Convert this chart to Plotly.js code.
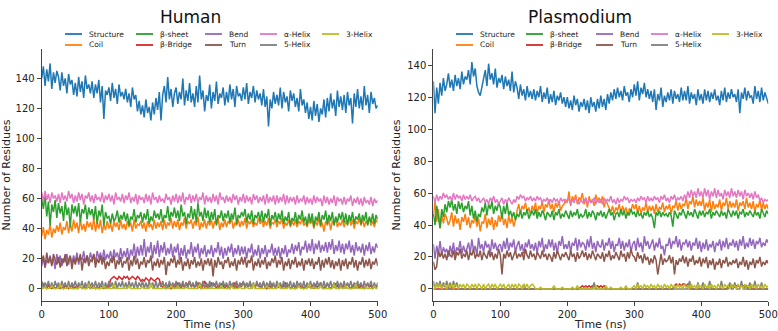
<!DOCTYPE html>
<html>
<head>
<meta charset="utf-8">
<script src="https://cdn.plot.ly/plotly-3.0.1.min.js"></script>
<style>
  html, body { margin: 0; padding: 0; background: #fff; }
  #graph { width: 778px; height: 331px; }
</style>
</head>
<body>
<div id="graph"></div>
<script>
// sampled every 2.5 ns, 0..500
var time = [];
for (var t = 0; t <= 500; t += 2.5) time.push(t);

var names = ['Structure', 'Coil', 'β-sheet', 'β-Bridge', 'Bend', 'Turn', 'α-Helix', '5-Helix', '3-Helix'];
var colors = ['#1f77b4', '#ff7f0e', '#2ca02c', '#d62728', '#9467bd', '#8c564b', '#e377c2', '#7f7f7f', '#bcbd22'];

// ---- Human ----
var hStructure = [
  140,148,135,146,138,150,133,144,137,145,
  141,132,144,135,140,130,143,136,139,129,
  137,128,141,131,138,127,142,133,136,130,
  138,127,136,130,139,124,135,113,132,129,
  134,125,137,127,133,123,136,128,131,126,
  133,124,130,121,134,126,129,118,125,116,
  122,114,126,117,121,112,124,116,127,119,
  131,112,129,135,124,141,126,133,121,130,
  134,123,131,126,140,122,132,125,137,124,
  130,121,135,124,142,126,132,118,129,125,
  136,120,131,125,138,123,130,127,134,122,
  131,124,136,126,133,121,135,128,130,125,
  134,126,137,123,131,127,135,124,132,126,
  130,122,133,121,128,108,126,120,131,123,
  129,122,134,120,131,124,128,118,132,125,
  130,121,127,118,133,122,126,117,124,113,
  121,112,125,115,123,111,120,116,126,114,
  127,118,130,120,126,115,132,121,128,119,
  129,117,131,122,127,110,130,121,133,120,
  128,119,135,122,129,117,131,123,127,120, 122];
var hCoil = [
  35,41,33,39,36,43,34,40,37,42,
  38,44,36,41,39,45,37,43,38,46,
  40,44,37,46,39,43,38,45,41,44,
  39,47,38,44,40,46,37,43,39,45,
  40,43,38,45,41,44,39,46,40,43,
  39,45,41,44,38,46,40,43,42,45,
  40,44,38,45,41,43,39,46,40,44,
  41,45,39,46,40,44,42,47,40,45,
  41,46,39,44,42,47,40,45,43,46,
  40,45,42,48,39,44,41,46,40,45,
  42,46,40,45,43,47,39,44,41,46,
  41,45,43,47,40,44,42,46,41,45,
  42,47,40,45,43,46,41,44,42,47,
  43,46,41,45,42,47,40,44,43,46,
  41,45,43,47,40,44,42,46,41,45,
  42,46,41,45,43,47,42,44,41,46,
  43,46,40,45,42,47,41,44,38,45,
  42,46,39,45,43,47,41,44,42,46,
  41,45,43,47,42,46,40,45,43,47,
  42,46,41,45,43,47,42,45,41,46, 44];
var hSheet = [
  60,53,62,48,58,42,56,51,59,47,
  57,50,55,45,58,49,54,41,56,50,
  55,48,57,44,53,50,56,46,54,49,
  53,46,55,43,52,48,56,42,51,47,
  48,43,50,45,47,52,44,49,46,51,
  45,50,42,48,46,53,44,49,47,51,
  44,50,46,53,43,48,45,52,47,50,
  46,53,44,49,47,55,45,51,48,54,
  47,52,45,56,48,51,43,50,47,55,
  46,53,44,57,48,51,45,54,47,52,
  44,51,46,53,42,49,47,52,45,50,
  47,52,44,50,46,54,43,49,47,51,
  48,53,44,50,46,52,43,49,47,51,
  45,52,44,50,47,53,42,49,46,51,
  44,50,46,52,43,48,45,51,42,47,
  45,51,43,49,46,52,44,48,42,50,
  44,50,41,48,45,51,42,49,46,52,
  43,49,45,51,42,48,44,50,46,51,
  44,50,42,49,45,51,43,48,46,50,
  43,49,45,51,42,48,44,50,43,49, 46];
var hBridge = [
  4,3,1,0,2,1,0,1,0,1,
  2,0,1,0,2,1,0,1,2,0,
  1,0,2,1,0,1,0,2,1,0,
  1,2,0,1,0,2,1,0,1,2,
  1,6,7,8,7,6,8,7,6,8,
  7,8,6,7,8,7,6,8,7,5,
  6,5,7,6,5,7,6,5,6,7,
  6,2,1,2,0,1,2,0,1,3,
  1,4,2,0,3,1,4,2,5,1,
  3,1,2,4,1,0,2,5,1,3,
  1,4,2,3,0,2,1,3,2,0,
  2,1,0,3,1,4,0,2,1,3,
  4,2,3,1,4,0,2,1,3,2,
  1,2,4,1,0,2,1,3,2,1,
  2,1,3,0,2,4,1,2,0,1,
  2,0,1,3,1,2,0,1,2,1,
  1,2,0,3,1,2,4,1,0,2,
  3,1,0,2,1,3,2,0,1,2,
  1,2,3,1,0,2,1,3,2,0,
  2,1,0,2,3,1,2,0,1,2, 1];
var hBend = [
  15,21,14,19,17,22,16,20,13,23,
  17,22,15,20,18,23,16,21,17,22,
  18,24,16,21,19,25,17,22,18,24,
  19,23,17,25,20,24,18,26,19,23,
  20,25,18,26,21,24,19,27,20,25,
  21,27,19,26,22,30,20,28,22,29,
  22,33,21,28,24,31,20,29,23,32,
  21,29,24,31,22,27,23,30,21,28,
  24,30,19,27,22,29,20,26,23,31,
  21,28,24,30,20,27,23,29,21,26,
  23,29,21,27,24,31,22,28,20,27,
  22,28,24,30,21,27,23,29,22,28,
  23,28,20,27,24,30,21,26,22,29,
  20,27,23,29,21,26,24,30,22,27,
  22,28,20,27,23,29,21,26,24,30,
  23,29,25,31,22,28,26,32,24,30,
  25,33,23,30,26,32,24,29,25,31,
  24,31,26,33,23,29,25,32,24,30,
  23,30,26,32,24,29,22,31,25,28,
  24,30,22,29,25,31,23,28,24,30, 27];
var hTurn = [
  18,22,14,24,17,21,15,23,19,16,
  21,14,20,17,23,15,19,22,13,20,
  16,21,18,23,12,20,17,22,15,19,
  18,23,14,20,17,22,16,21,13,18,
  15,20,17,22,13,19,16,21,14,18,
  17,21,12,19,15,22,16,20,13,18,
  16,21,14,19,17,22,12,18,15,20,
  14,19,16,21,9,18,15,20,17,22,
  14,19,16,21,12,18,15,20,13,19,
  16,21,14,18,15,20,12,19,16,20,
  15,20,8,19,14,21,16,18,13,19,
  17,21,14,18,15,20,12,19,16,21,
  16,21,14,19,17,22,12,18,15,20,
  14,19,16,21,13,18,15,20,17,22,
  14,19,16,21,12,18,15,20,13,19,
  16,21,14,18,15,20,12,19,16,20,
  15,20,13,18,16,21,12,19,14,20,
  16,21,14,19,13,18,15,20,12,19,
  15,20,13,18,16,21,14,19,12,18,
  16,21,14,19,15,20,13,18,16,20, 15];
var hAlpha = [
  64,58,65,59,63,57,64,60,62,58,
  63,57,64,59,62,58,65,60,63,57,
  62,58,64,59,63,56,62,60,64,58,
  62,57,63,59,61,58,64,57,62,59,
  63,58,62,56,64,59,61,58,63,57,
  62,59,64,57,61,58,63,56,62,59,
  61,57,63,58,62,56,64,59,61,57,
  62,58,60,57,63,59,61,56,62,58,
  63,57,62,58,64,56,61,59,63,57,
  62,58,63,57,61,59,64,56,62,58,
  61,57,63,58,62,56,64,59,61,57,
  62,58,61,57,63,59,62,56,61,58,
  63,57,62,58,61,56,63,59,62,57,
  61,58,62,56,63,57,61,58,62,56,
  62,57,61,58,63,56,62,57,61,58,
  61,56,62,57,60,58,62,56,61,57,
  60,56,62,57,61,58,60,55,62,57,
  61,56,60,57,62,55,61,58,60,56,
  61,56,60,58,62,55,60,57,61,56,
  60,55,61,57,59,56,61,55,60,57, 59];
var hPi = [
  5,0,4,1,5,0,4,0,5,1,
  4,0,5,1,4,0,5,0,4,1,
  5,0,4,1,5,0,4,0,5,1,
  4,0,5,0,4,1,5,0,4,0,
  5,1,4,0,5,0,4,1,5,0,
  4,0,5,1,4,0,5,0,4,1,
  5,0,4,0,5,1,4,0,5,0,
  4,1,5,0,4,0,5,1,4,0,
  5,0,4,1,5,0,4,0,5,1,
  4,0,5,0,4,1,5,0,4,0,
  5,0,4,1,5,0,4,0,5,1,
  4,0,5,1,4,0,5,0,4,1,
  5,0,4,1,5,0,4,0,5,1,
  4,0,5,0,4,1,5,0,4,0,
  5,1,4,0,5,0,4,1,5,0,
  4,0,5,1,4,0,5,0,4,1,
  5,0,4,0,5,1,4,0,5,0,
  4,1,5,0,4,0,5,1,4,0,
  5,0,4,1,5,0,4,0,5,1,
  4,0,5,0,4,1,5,0,4,0, 4];
var hThree = [
  0,0,1,0,0,0,2,0,0,0,
  0,3,0,0,0,0,1,0,0,0,
  0,0,0,2,0,0,0,0,3,0,
  0,1,0,0,0,0,0,2,0,0,
  0,0,0,3,0,0,0,0,0,1,
  0,0,2,0,0,0,0,0,0,0,
  1,0,0,0,0,3,0,0,0,0,
  0,0,0,1,0,0,0,2,0,0,
  0,2,0,0,0,0,1,0,0,0,
  0,0,0,0,3,0,0,0,0,0,
  0,1,0,0,0,0,0,2,0,0,
  0,0,0,2,0,0,0,0,1,0,
  0,0,1,0,0,0,3,0,0,0,
  0,0,0,0,2,0,0,0,0,0,
  0,3,0,0,0,0,0,1,0,0,
  0,0,0,2,0,0,0,0,0,3,
  0,0,1,0,0,0,2,0,0,0,
  0,0,0,0,3,0,0,0,1,0,
  0,2,0,0,0,0,0,3,0,0,
  0,0,0,1,0,0,0,0,2,0, 0];

// ---- Plasmodium ----
var pStructure = [
  130,110,126,116,129,121,132,124,128,135,
  126,131,124,134,127,132,125,136,128,133,
  131,137,128,142,133,138,127,123,121,126,
  130,137,127,141,131,135,128,138,126,132,
  129,134,125,133,127,131,124,136,123,130,
  126,119,128,121,125,118,127,120,124,119,
  125,118,124,120,127,117,123,119,126,116,
  122,117,124,115,121,118,123,116,120,114,
  120,113,118,112,121,115,119,111,117,114,
  119,112,118,110,120,114,117,111,119,113,
  121,114,119,112,122,116,123,118,125,119,
  126,120,124,118,127,121,123,117,125,120,
  128,121,130,118,126,122,129,120,125,119,
  124,117,125,112,122,118,126,114,121,117,
  123,118,125,116,124,119,122,117,126,118,
  124,118,127,116,123,119,122,115,125,118,
  122,116,125,118,124,117,123,119,125,118,
  121,115,124,118,126,117,123,119,125,120,
  122,117,125,110,123,119,126,118,124,120,
  121,116,127,119,124,117,126,118,123,120, 116];
var pCoil = [
  45,55,42,50,38,46,41,47,44,40,
  43,48,39,46,41,44,37,45,42,47,
  40,45,38,43,41,46,39,44,36,42,
  41,47,38,44,40,45,37,43,39,46,
  42,48,40,44,38,46,41,45,39,43,
  49,53,47,52,50,54,48,51,46,52,
  49,54,47,52,50,55,48,53,51,56,
  50,53,48,54,51,55,49,52,53,56,
  54,61,52,58,55,59,53,57,56,60,
  53,57,51,58,54,56,52,59,55,57,
  54,58,51,56,53,50,48,52,47,51,
  49,53,47,52,48,51,46,50,49,53,
  50,53,48,52,47,51,49,54,48,52,
  49,52,47,53,48,51,50,54,48,52,
  50,53,47,52,51,55,49,54,50,53,
  52,57,50,55,53,58,51,56,52,55,
  52,57,49,54,51,56,48,55,50,53,
  51,56,49,54,52,57,50,55,51,54,
  51,56,49,54,52,55,50,57,51,54,
  50,55,48,53,51,56,49,54,50,53, 50];
var pSheet = [
  47,40,52,44,38,50,45,53,48,55,
  51,56,49,53,47,55,50,54,48,52,
  50,55,46,52,44,49,42,47,45,51,
  48,54,46,53,50,55,47,52,49,54,
  51,44,52,47,54,46,49,45,48,43,
  47,45,49,44,48,46,50,44,47,49,
  46,50,44,48,45,49,47,43,48,46,
  45,49,43,48,46,50,44,47,45,49,
  47,44,49,45,48,46,50,44,47,45,
  46,50,44,48,45,49,47,43,48,46,
  49,45,48,44,47,50,46,48,43,47,
  48,45,50,46,49,44,48,46,50,47,
  48,45,49,46,47,44,48,46,49,45,
  47,44,38,48,46,49,45,48,46,47,
  45,48,46,39,49,47,44,48,46,50,
  47,44,49,46,48,45,50,47,44,49,
  46,49,45,48,47,50,44,48,46,49,
  47,45,49,46,48,44,50,47,45,49,
  46,49,44,48,47,50,45,48,46,49,
  47,45,49,46,48,44,50,47,45,49, 47];
var pBridge = [
  0,0,0,0,0,0,0,0,0,0,
  0,0,0,0,0,0,0,0,0,0,
  0,0,0,0,0,0,0,0,0,0,
  0,0,0,0,0,0,0,0,0,0,
  0,0,0,0,0,0,0,0,0,0,
  0,0,0,0,0,0,0,0,0,0,
  0,0,0,0,0,0,0,0,0,0,
  0,0,0,0,0,0,0,0,0,0,
  0,0,0,0,0,0,0,0,1,2,
  1,2,1,2,1,2,2,1,2,1,
  2,1,2,1,0,0,0,0,0,0,
  0,0,0,0,0,0,0,0,0,0,
  0,0,0,0,0,0,0,0,0,0,
  0,0,0,0,0,0,0,0,0,0,
  0,0,0,0,2,3,2,3,2,3,
  3,2,3,0,0,0,0,0,0,0,
  0,0,0,0,0,0,0,0,0,0,
  0,0,0,0,0,0,2,1,2,2,
  1,2,2,1,2,2,1,2,0,0,
  0,0,0,0,0,0,0,0,0,0, 0];
var pBend = [
  28,19,27,22,30,21,26,23,25,20,
  27,22,29,21,26,24,30,22,27,23,
  25,29,22,31,24,27,21,32,25,28,
  23,30,26,28,22,31,25,29,24,27,
  28,23,30,25,32,24,29,26,31,23,
  27,30,24,28,22,29,26,31,25,28,
  24,29,22,30,26,32,23,28,25,31,
  26,31,24,29,22,30,27,33,25,28,
  25,30,23,29,27,32,24,31,26,29,
  28,24,31,26,33,25,29,23,30,27,
  26,31,24,29,27,32,25,30,23,28,
  27,32,25,30,24,29,26,31,23,28,
  30,24,32,26,29,23,33,27,30,25,
  28,31,24,29,26,32,25,27,21,28,
  27,32,25,30,28,33,26,31,24,29,
  28,31,26,30,24,29,27,32,25,30,
  23,29,25,31,24,28,26,30,23,29,
  27,31,24,30,26,32,25,29,27,31,
  26,30,24,31,27,33,25,29,26,32,
  27,31,25,30,28,32,26,29,27,31, 29];
var pTurn = [
  17,12,14,24,20,23,19,22,18,24,
  21,20,24,18,23,21,25,19,22,20,
  24,18,23,21,25,19,22,20,24,18,
  23,21,19,24,20,23,18,22,19,25,
  21,9,22,19,24,20,23,18,21,24,
  19,22,20,23,18,25,21,19,24,20,
  22,18,23,21,19,24,20,22,18,22,
  20,17,23,19,24,21,18,22,20,23,
  21,18,24,20,22,17,23,19,21,24,
  20,23,18,22,19,24,21,18,22,20,
  19,23,17,22,20,24,18,21,19,23,
  21,18,24,20,22,17,23,19,25,21,
  20,17,23,19,21,16,22,18,20,15,
  19,16,21,18,9,17,22,15,19,17,
  18,21,16,20,9,18,15,19,17,21,
  16,20,14,19,17,21,15,18,16,20,
  14,19,16,20,13,18,15,19,12,17,
  15,19,13,18,16,20,14,17,15,18,
  16,19,13,17,15,20,14,18,12,17,
  15,19,13,18,16,20,14,17,15,18, 16];
var pAlpha = [
  58,54,59,55,58,56,60,57,59,56,
  58,55,60,56,59,57,58,55,59,56,
  58,56,59,55,57,58,55,57,54,56,
  57,54,56,53,57,55,58,54,56,53,
  55,57,53,56,54,57,55,53,56,54,
  58,56,59,57,58,55,57,56,58,55,
  57,55,58,56,57,54,56,55,57,54,
  56,54,57,55,56,53,57,55,56,54,
  55,57,53,56,54,57,55,53,56,54,
  55,57,53,56,54,55,57,53,56,54,
  56,53,57,54,56,55,58,54,56,53,
  57,54,56,55,58,56,57,54,56,55,
  56,54,57,55,58,56,57,54,58,55,
  57,55,58,56,57,54,58,56,59,55,
  57,54,58,56,59,55,57,56,58,55,
  59,56,61,57,62,58,61,57,63,58,
  61,57,63,58,62,56,61,58,63,57,
  62,58,60,56,62,58,61,57,63,58,
  61,57,62,58,61,56,62,58,60,57,
  60,56,61,57,59,55,57,54,56,55, 56];
var pPi = [
  5,0,4,1,5,0,4,1,5,0,
  4,0,5,1,4,0,0,0,0,0,
  0,0,0,0,0,0,0,0,0,0,
  0,0,0,0,0,0,0,0,0,0,
  0,0,0,0,0,0,0,0,0,0,
  0,0,0,0,3,0,0,0,0,0,
  0,0,0,0,0,0,0,0,0,0,
  0,0,0,0,0,0,0,0,0,0,
  0,0,0,0,0,0,0,0,0,0,
  0,0,0,0,0,0,4,0,0,0,
  0,0,0,0,0,0,0,0,0,0,
  0,0,0,0,0,0,0,0,0,0,
  0,0,4,0,0,0,0,0,0,0,
  0,0,0,0,0,0,0,0,0,0,
  0,0,0,0,0,0,0,0,0,0,
  0,0,0,5,0,0,0,0,4,0,
  0,4,0,0,0,5,0,0,0,0,
  0,0,5,0,0,0,0,4,0,0,
  4,0,0,0,5,0,0,0,0,4,
  0,0,5,0,0,0,4,0,0,0, 0];
var pThree = [
  3,0,3,1,3,0,2,3,0,3,
  1,3,0,3,2,0,3,1,3,0,
  3,2,0,3,1,3,0,3,2,0,
  3,0,2,3,0,3,1,3,0,2,
  3,1,3,0,2,3,0,3,1,3,
  0,3,2,0,3,1,3,0,2,3,
  2,0,0,0,1,0,0,0,0,0,
  0,0,2,0,0,0,0,1,0,0,
  0,0,0,1,0,0,2,0,0,0,
  0,1,0,0,0,0,0,2,0,0,
  0,0,0,2,0,0,1,0,0,0,
  0,0,1,0,0,2,0,0,0,1,
  2,0,3,1,2,0,3,1,2,0,
  3,1,2,0,3,1,2,0,3,1,
  2,0,3,1,2,0,3,1,2,0,
  3,1,2,0,3,1,2,0,3,1,
  2,0,3,1,2,0,3,1,2,0,
  3,1,2,0,3,1,2,0,3,1,
  2,0,3,1,2,0,3,1,2,0,
  3,1,2,0,3,1,2,0,3,1, 2];

var human = [hStructure, hCoil, hSheet, hBridge, hBend, hTurn, hAlpha, hPi, hThree];
var plasmo = [pStructure, pCoil, pSheet, pBridge, pBend, pTurn, pAlpha, pPi, pThree];

var data = [];
function addPanel(series, xa, ya) {
  for (var i = 0; i < series.length; i++) {
    data.push({
      x: time, y: series[i], type: 'scatter', mode: 'lines',
      name: names[i], xaxis: xa, yaxis: ya, showlegend: false,
      line: {color: colors[i], width: 1.5}
    });
  }
}
addPanel(human, 'x', 'y');
addPanel(plasmo, 'x2', 'y2');

var fam = 'DejaVu Sans, sans-serif';
function xax(domain, anchor) {
  return {
    domain: domain, range: [0, 500], anchor: anchor,
    showgrid: false, zeroline: false,
    showline: true, linecolor: '#444', linewidth: 1,
    ticks: 'outside', ticklen: 4, tickcolor: '#444',
    tickvals: [0, 100, 200, 300, 400, 500],
    tickfont: {family: fam, size: 10, color: '#222'},
    title: {text: 'Time (ns)', font: {family: fam, size: 11, color: '#222'}, standoff: 4}
  };
}
function yax(range, anchor) {
  return {
    domain: [0.092, 0.8505], range: range, anchor: anchor,
    showgrid: false, zeroline: false,
    showline: true, linecolor: '#444', linewidth: 1,
    ticks: 'outside', ticklen: 4, tickcolor: '#444',
    tickvals: [0, 20, 40, 60, 80, 100, 120, 140],
    tickfont: {family: fam, size: 10, color: '#222'},
    title: {text: 'Number of Residues', font: {family: fam, size: 11, color: '#222'}, standoff: 4}
  };
}

// legend drawn as two rows of five columns above each panel (pixel positions of label starts)
var legendCols = [[87, 158, 227, 282, 344], [478, 548, 618, 673, 734]];
var legendRows = [34, 45];
var legendSlot = [[0, 0], [0, 1], [1, 0], [1, 1], [2, 0], [2, 1], [3, 0], [3, 1], [4, 0]];
var shapes = [];
var annotations = [
  {text: 'Human', x: 190 / 778, y: 1 - 17 / 331, xref: 'paper', yref: 'paper',
   xanchor: 'center', yanchor: 'middle', showarrow: false,
   font: {family: fam, size: 17, color: '#111'}},
  {text: 'Plasmodium', x: 580 / 778, y: 1 - 17 / 331, xref: 'paper', yref: 'paper',
   xanchor: 'center', yanchor: 'middle', showarrow: false,
   font: {family: fam, size: 17, color: '#111'}}
];
legendCols.forEach(function (cols) {
  for (var i = 0; i < names.length; i++) {
    var tx = cols[legendSlot[i][0]];
    var ty = 1 - legendRows[legendSlot[i][1]] / 331;
    shapes.push({type: 'line', xref: 'paper', yref: 'paper',
      x0: (tx - 22) / 778, x1: (tx - 5) / 778, y0: ty, y1: ty,
      line: {color: colors[i], width: 1.8}});
    annotations.push({text: names[i], x: tx / 778, y: ty, xref: 'paper', yref: 'paper',
      xanchor: 'left', yanchor: 'middle', showarrow: false,
      font: {family: fam, size: 7.5, color: '#222'}});
  }
});

var layout = {
  width: 778, height: 331,
  margin: {l: 0, r: 0, t: 0, b: 0},
  paper_bgcolor: '#fff', plot_bgcolor: '#fff',
  font: {family: fam, color: '#222'},
  showlegend: false,
  xaxis: xax([0.0536, 0.4855], 'y'),
  yaxis: yax([-8, 159.3], 'x'),
  xaxis2: xax([0.557, 0.9875], 'y2'),
  yaxis2: yax([-7.3, 149.9], 'x2'),
  shapes: shapes,
  annotations: annotations
};

Plotly.newPlot('graph', data, layout, {displayModeBar: false, staticPlot: true});
</script>
</body>
</html>
